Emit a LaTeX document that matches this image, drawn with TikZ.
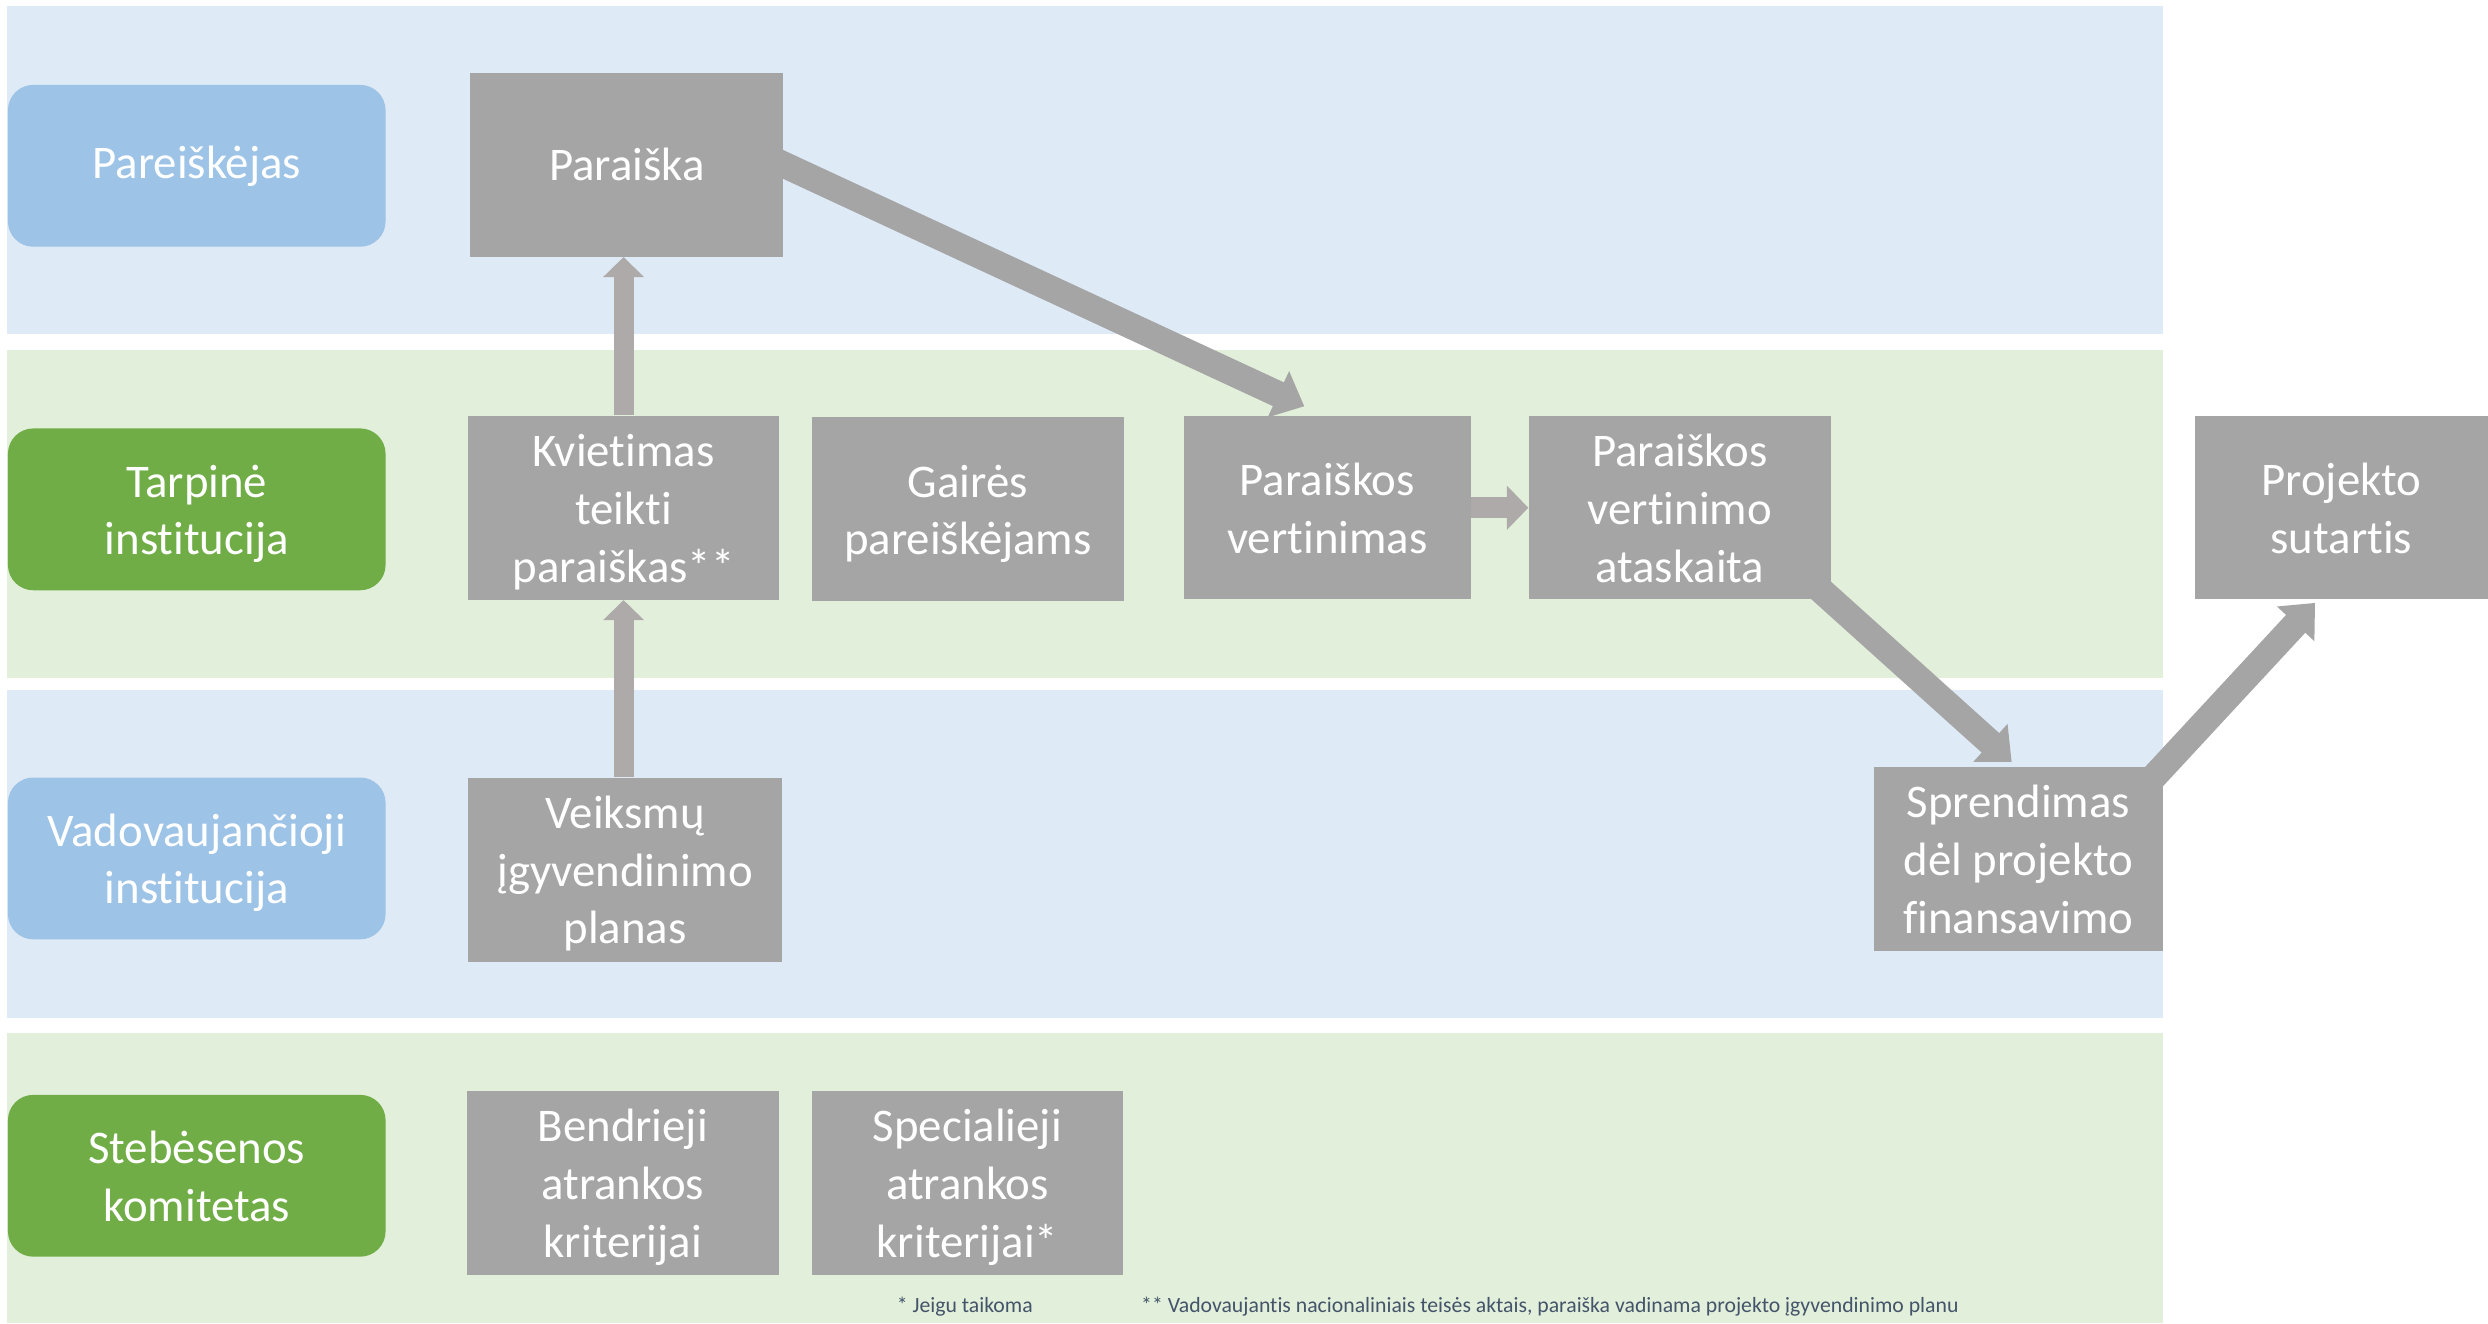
\documentclass[tikz,border=0pt]{standalone}
\usepackage{fontspec}
\setmainfont{Carlito}[Ligatures=NoCommon]
\usetikzlibrary{arrows.meta}
\definecolor{bandblue}{HTML}{DEEAF6}
\definecolor{bandgreen}{HTML}{E2EFDA}
\definecolor{labblue}{HTML}{9DC3E6}
\definecolor{labgreen}{HTML}{70AD47}
\definecolor{boxgray}{HTML}{A5A5A5}
\definecolor{arrgray}{HTML}{AEAAAA}
\definecolor{notecol}{HTML}{44546A}
\pgfdeclarelayer{bands}
\pgfdeclarelayer{arrowlayer}
\pgfsetlayers{bands,arrowlayer,main}
\begin{document}
\begin{tikzpicture}[x=1pt,y=-1pt,
  bigtext/.style={font=\fontsize{29.5}{36.3}\selectfont, text=white, align=center, inner sep=0pt},
  mltwo/.style={text height=63.3pt, text depth=6pt},
  mlthree/.style={text height=99.6pt, text depth=6pt},
  lane/.style={bigtext, rounded corners=16pt, minimum width=238pt, minimum height=102pt},
  lblue/.style={lane, fill=labblue},
  lgreen/.style={lane, fill=labgreen},
  gbox/.style={bigtext, fill=boxgray},
  shortarr/.style={draw=arrgray, line width=12.5pt, -{Triangle[length=12.6pt,width=25pt]}},
  harr/.style={draw=arrgray, line width=13.5pt, -{Triangle[length=13.5pt,width=27pt]}},
  longarr/.style={draw=boxgray, line width=16.5pt, -{Triangle[length=18pt,width=31pt]}},
  note/.style={font=\fontsize{13.7}{16}\selectfont, text=notecol, inner sep=0pt, anchor=base west}]
\useasboundingbox (0,0) rectangle (1568,834);
\begin{pgfonlayer}{bands}
\fill[white] (0,0) rectangle (1568,834);
\fill[bandblue] (4.5,3.8) rectangle (1363,210.5);
\fill[bandgreen] (4.5,220.6) rectangle (1363,427.1);
\fill[bandblue] (4.5,434.9) rectangle (1363,641.4);
\fill[bandgreen] (4.5,651.2) rectangle (1363,834);
\end{pgfonlayer}

% lane labels
\node[lblue] (l1) at (124,104.5) {Pareiškėjas};
\node[lgreen, mltwo] (l2) at (124,321) {Tarpinė\\institucija};
\node[lblue, mltwo] (l3) at (124,541) {Vadovaujančioji\\institucija};
\node[lgreen, mltwo] (l4) at (124,741) {Stebėsenos\\komitetas};

% process boxes
\node[gbox, minimum width=197pt, minimum height=115.8pt] (par) at (395,103.9) {Paraiška};
\node[gbox, mlthree, minimum width=196pt, minimum height=116pt] (kv) at (393,320) {Kvietimas\\teikti\\paraiškas**};
\node[gbox, mltwo, minimum width=196.4pt, minimum height=115.8pt] (ga) at (610,321) {Gairės\\pareiškėjams};
\node[gbox, mltwo, minimum width=180.6pt, minimum height=115.5pt] (pv) at (836.5,320) {Paraiškos\\vertinimas};
\node[gbox, mlthree, minimum width=190.4pt, minimum height=115.5pt] (at) at (1058.6,320) {Paraiškos\\vertinimo\\ataskaita};
\node[gbox, mltwo, minimum width=184.8pt, minimum height=115.5pt] (su) at (1475.6,320) {Projekto\\sutartis};
\node[gbox, mlthree, minimum width=198pt, minimum height=116pt] (ve) at (394,548) {Veiksmų\\įgyvendinimo\\planas};
\node[gbox, mlthree, minimum width=182pt, minimum height=115.8pt] (sp) at (1272,541.3) {Sprendimas\\dėl projekto\\finansavimo};
\node[gbox, mlthree, minimum width=197pt, minimum height=115.8pt] (be) at (392.5,745.5) {Bendrieji\\atrankos\\kriterijai};
\node[gbox, mlthree, minimum width=196.2pt, minimum height=115.8pt] (spc) at (609.7,745.5) {Specialieji\\atrankos\\kriterijai*};

% connectors
\begin{pgfonlayer}{arrowlayer}
\draw[shortarr] (kv.north) -- (kv.north |- par.south);
\draw[shortarr] (kv.south |- ve.north) -- (kv.south);
\draw[harr] (pv.east) -- (at.west);
\draw[longarr] ([xshift=-20pt,yshift=9.5pt]par.east) -- ([xshift=76pt,yshift=6pt]pv.north west);
\draw[longarr] ([xshift=-12pt,yshift=11pt]at.south east) -- ([xshift=87pt,yshift=3pt]sp.north west);
\draw[longarr] ([xshift=-11pt,yshift=-12pt]sp.north east) -- ([xshift=76pt,yshift=-2pt]su.south west);
\end{pgfonlayer}

% footnotes
\node[note] (n1) at (565,827.3) {* Jeigu taikoma};
\node[note] (n2) at (719,827.3) {** Vadovaujantis nacionaliniais teisės aktais, paraiška vadinama projekto įgyvendinimo planu};
\end{tikzpicture}
\end{document}
